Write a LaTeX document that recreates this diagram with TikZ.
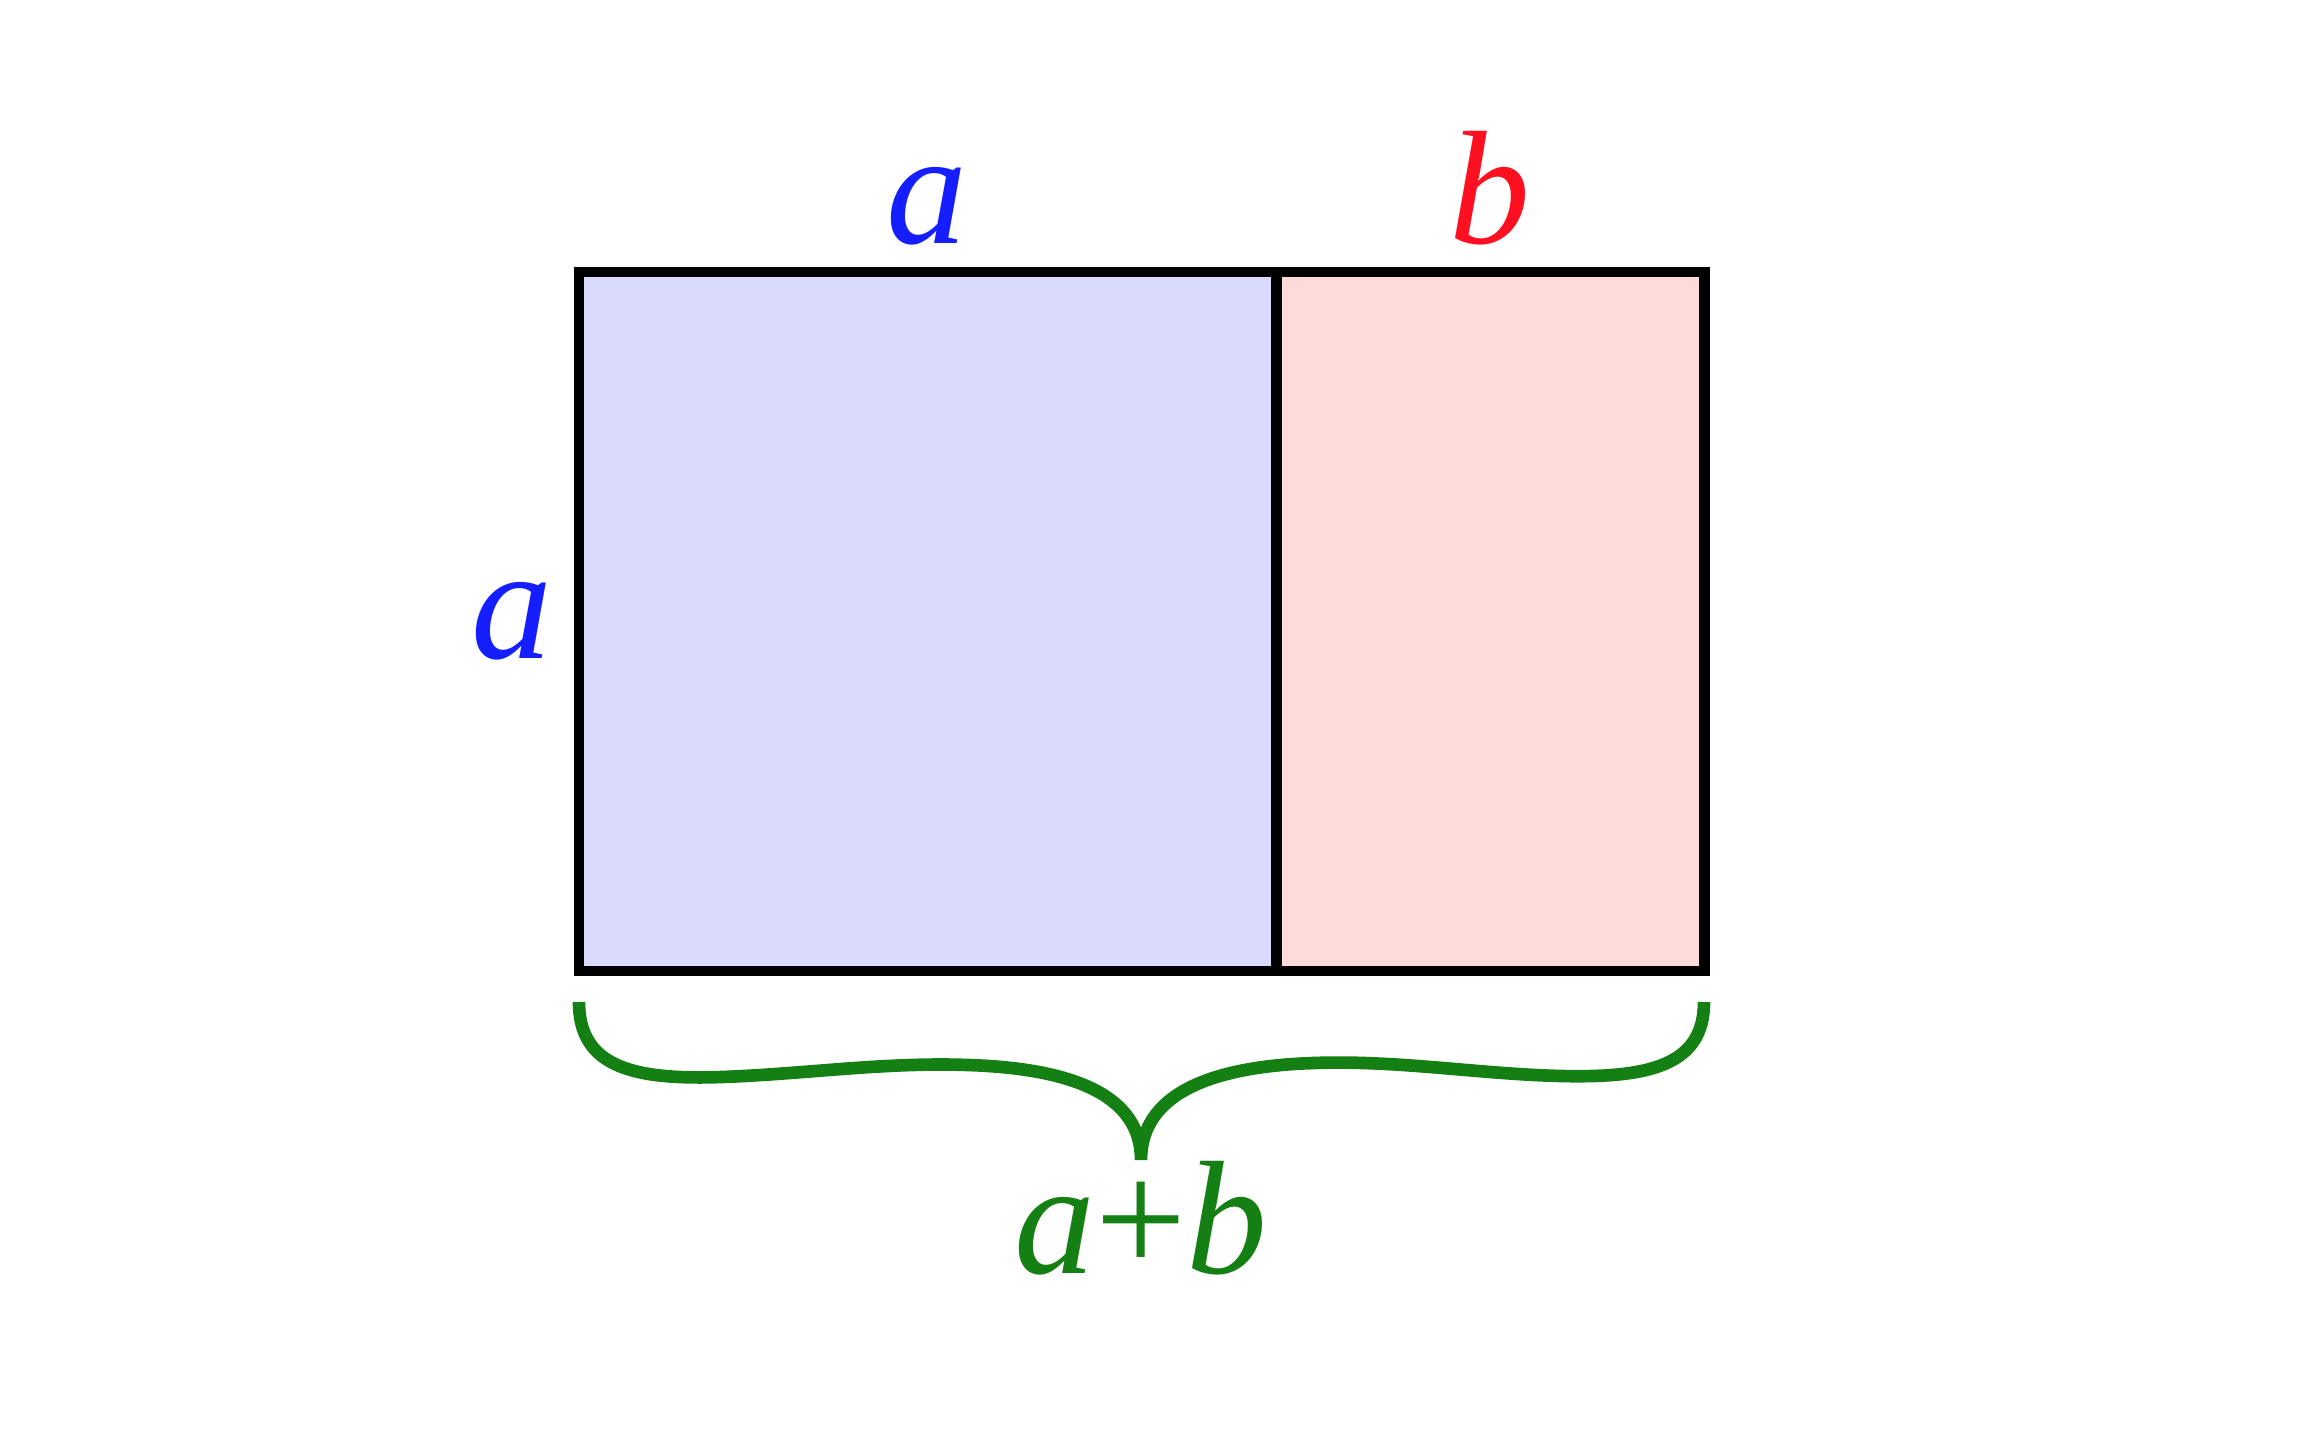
\documentclass[tikz,border=0pt]{standalone}
\usepackage{fontspec}
\setmainfont{Liberation Serif}
\definecolor{bluefill}{RGB}{218,218,255}
\definecolor{redfill}{RGB}{255,218,218}
\definecolor{bluetext}{RGB}{20,30,255}
\definecolor{redtext}{RGB}{255,16,32}
\definecolor{greenc}{RGB}{20,128,20}
\tikzset{
  edgeline/.style={line width=3.12pt, draw=black},
  lbl/.style={inner sep=0pt, anchor=base, font=\fontsize{46}{50}\selectfont\itshape},
  bracestyle/.style={line width=3.6pt, draw=greenc, line cap=butt}
}
\begin{document}
\begin{tikzpicture}[x=0.01cm,y=-0.01cm]
\useasboundingbox (0,0) rectangle (2316,1440);
% corners
\coordinate (TL) at (579,272);
\coordinate (TM) at (1276,272);
\coordinate (TR) at (1704,272);
\coordinate (BL) at (579,971);
\coordinate (BM) at (1276,971);
\coordinate (BR) at (1704,971);
\fill[bluefill] (TL) rectangle (BM);
\fill[redfill] (TM) rectangle (BR);
\draw[edgeline] (TL) rectangle (BR);
\draw[edgeline] (TM) -- (BM);
% labels
\node[lbl, text=bluetext] (atop) at (927,244) {a};
\node[lbl, text=redtext] (btop) at (1490,244) {b};
\node[lbl, text=bluetext, anchor=base east] (aleft) at (553,658) {a};
% brace
\coordinate (bl) at (579,1002);
\coordinate (br) at (1704,1002);
\coordinate (tip) at (1141,1160);
\draw[bracestyle] (bl) .. controls (579,1068) and (635,1080) .. (722,1077)
  .. controls (805,1074) and (885,1062) .. (968,1065)
  .. controls (1092,1069) and (1141,1105) .. (tip)
  .. controls (1141,1105) and (1190,1067) .. (1314,1063)
  .. controls (1398,1060) and (1478,1074) .. (1561,1076)
  .. controls (1648,1078) and (1704,1066) .. (br);
\node[lbl, text=greenc] (sum) at (1141,1273) {a\textup{+}b};
\end{tikzpicture}
\end{document}
